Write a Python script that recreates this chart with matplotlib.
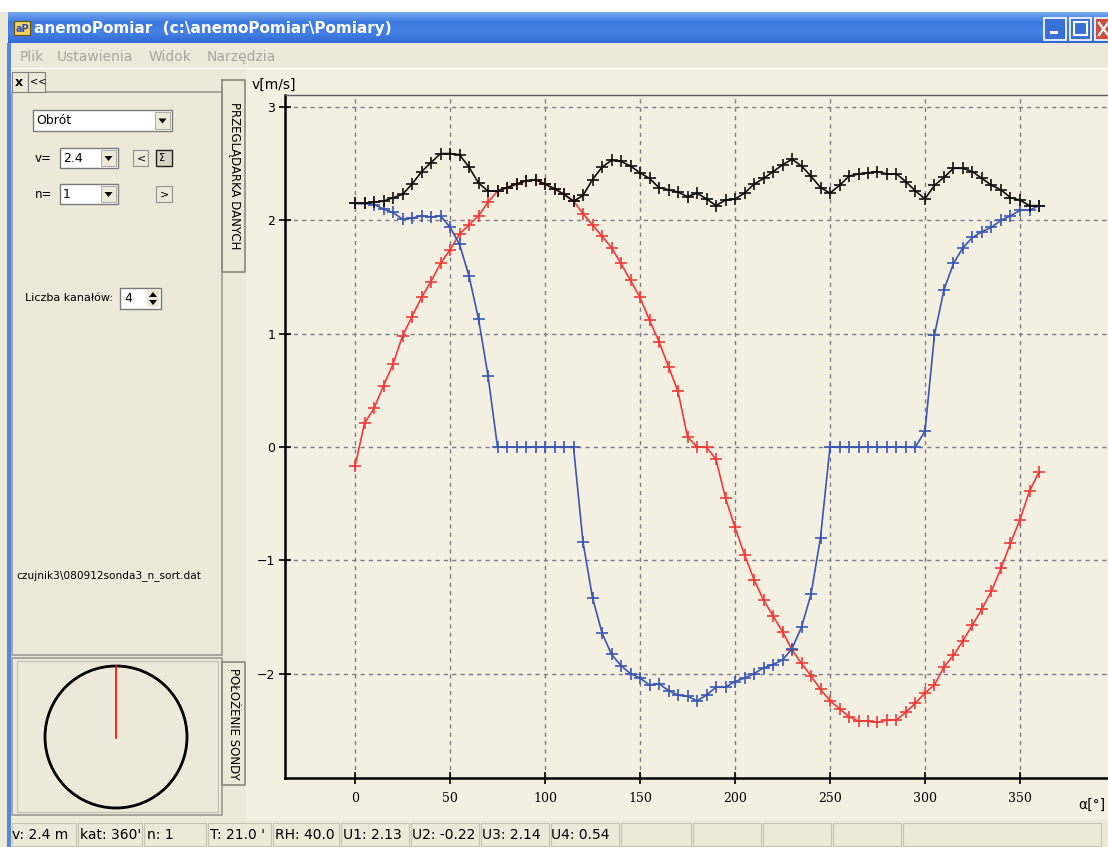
import numpy as np
import matplotlib
matplotlib.use("Agg")
import matplotlib.pyplot as plt
from matplotlib.patches import Rectangle, Circle, Polygon
from matplotlib.colors import LinearSegmentedColormap

# ---------------- data ----------------
angles = list(range(0, 361, 5))
x_ticks = [0, 50, 100, 150, 200, 250, 300, 350]
y_ticks = [-2, -1, 0, 1, 2, 3]

u_black = [2.15, 2.15, 2.16, 2.17, 2.20, 2.23, 2.32, 2.43, 2.51, 2.59,
           2.59, 2.58, 2.47, 2.33, 2.26, 2.26, 2.29, 2.32, 2.35, 2.36,
           2.32, 2.28, 2.23, 2.17, 2.22, 2.36, 2.47, 2.53, 2.52, 2.48,
           2.42, 2.37, 2.29, 2.27, 2.25, 2.21, 2.24, 2.19, 2.13, 2.18,
           2.19, 2.24, 2.32, 2.37, 2.43, 2.49, 2.54, 2.48, 2.39, 2.29,
           2.24, 2.31, 2.39, 2.41, 2.42, 2.43, 2.41, 2.41, 2.34, 2.26,
           2.19, 2.31, 2.38, 2.46, 2.46, 2.43, 2.37, 2.31, 2.27, 2.20,
           2.18, 2.13, 2.13]

u_blue = [2.15, 2.15, 2.14, 2.10, 2.07, 2.01, 2.02, 2.04, 2.03, 2.04,
          1.94, 1.79, 1.51, 1.13, 0.63, 0.0, 0.0, 0.0, 0.0, 0.0,
          0.0, 0.0, 0.0, 0.0, -0.84, -1.33, -1.64, -1.83, -1.93, -2.00,
          -2.04, -2.10, -2.09, -2.15, -2.19, -2.20, -2.24, -2.19, -2.12, -2.12,
          -2.07, -2.04, -2.00, -1.95, -1.92, -1.88, -1.78, -1.59, -1.30, -0.80,
          0.0, 0.0, 0.0, 0.0, 0.0, 0.0, 0.0, 0.0, 0.0, 0.0,
          0.14, 0.99, 1.39, 1.62, 1.76, 1.85, 1.90, 1.94, 2.00, 2.04,
          2.09, 2.09, 2.13]

u_red = [-0.17, 0.21, 0.34, 0.54, 0.73, 0.98, 1.15, 1.32, 1.46, 1.62,
         1.74, 1.88, 1.96, 2.04, 2.16, 2.26, 2.29, 2.32, 2.35, 2.36,
         2.32, 2.28, 2.23, 2.17, 2.06, 1.96, 1.86, 1.76, 1.62, 1.47,
         1.32, 1.12, 0.93, 0.71, 0.49, 0.09, 0.0, 0.0, -0.11, -0.45,
         -0.71, -0.95, -1.17, -1.35, -1.49, -1.63, -1.79, -1.91, -2.02, -2.14,
         -2.24, -2.31, -2.38, -2.42, -2.42, -2.43, -2.41, -2.41, -2.34, -2.26,
         -2.17, -2.10, -1.94, -1.84, -1.71, -1.57, -1.43, -1.27, -1.07, -0.85,
         -0.64, -0.39, -0.22]

status_texts = ["v: 2.4 m", "kat: 360'", "n: 1", "T: 21.0 '", "RH: 40.0",
                "U1: 2.13", "U2: -0.22", "U3: 2.14", "U4: 0.54"]
menu_items = ["Plik", "Ustawienia", "Widok", "Narzędzia"]

# ---------------- figure ----------------
W, H = 1108, 847
BG = "#ECE9D8"
CHART_BG = "#F3EFE1"
fig = plt.figure(figsize=(W / 100, H / 100), dpi=100)
fig.patch.set_facecolor(BG)

ui = fig.add_axes([0, 0, 1, 1], zorder=0)
ui.set_xlim(0, W)
ui.set_ylim(H, 0)
ui.axis("off")


def rect(x0, y0, x1, y1, fc="none", ec="none", lw=1.0, z=1):
    ui.add_patch(Rectangle((x0, y0), x1 - x0, y1 - y0, facecolor=fc,
                           edgecolor=ec, linewidth=lw, zorder=z))


def txt(x, y, s, size=9, color="black", **kw):
    ui.text(x, y, s, fontsize=size, color=color, va="center", ha="left",
            zorder=5, **kw)


# top white strip
rect(0, 0, W, 12, fc="white")
# title bar gradient
cmap = LinearSegmentedColormap.from_list("xp", ["#7aaaf0", "#3b78e0", "#4682e4", "#3069d4"])
grad = np.linspace(0, 1, 64).reshape(-1, 1)
ui.imshow(grad, cmap=cmap, aspect="auto", extent=[8, W, 43, 12], zorder=1)
ui.set_xlim(0, W)
ui.set_ylim(H, 0)
# icon + title
rect(14, 21, 30, 35, fc="#f0d060", ec="#6a5010", lw=0.8, z=3)
ui.text(22, 28.5, "aP", fontsize=7, color="#3050b0", ha="center", va="center",
        fontweight="bold", zorder=4)
txt(34, 28, "anemoPomiar  (c:\\anemoPomiar\\Pomiary)", size=11, color="white",
    fontweight="bold")
# window buttons
rect(1044, 18, 1066, 40, fc="#3b6fd8", ec="white", lw=1.2, z=3)
rect(1050, 31, 1058, 34, fc="white", z=4)
rect(1070, 18, 1091, 40, fc="#3b6fd8", ec="white", lw=1.2, z=3)
rect(1074, 22, 1087, 35, fc="none", ec="white", lw=1.5, z=4)
rect(1095, 18, 1112, 40, fc="#c9503f", ec="white", lw=1.2, z=3)
ui.plot([1099, 1108], [23, 35], color="white", lw=1.6, zorder=4)
ui.plot([1099, 1108], [35, 23], color="white", lw=1.6, zorder=4)
# left blue window border
rect(7, 43, 11, H, fc="#5a84dc")
# menu bar
for s, x in zip(menu_items, [20, 57, 149, 207]):
    txt(x, 57, s, size=10, color="#a8a8a0")
rect(11, 68, W, 69, fc="#ffffff")

# chart region background
rect(246, 69, W, 820, fc=CHART_BG)

# left panel (data browser)
rect(12, 92, 222, 655, fc=BG, ec="#9a9a90", lw=1.2)
rect(12, 72, 28, 92, fc=BG, ec="#808080", lw=0.8)
txt(15, 82, "x", size=9, fontweight="bold")
rect(28, 72, 45, 92, fc=BG, ec="#808080", lw=0.8)
txt(30, 81, "<<", size=7)
# tab
ui.plot([222, 222, 245, 245, 222], [80, 272, 272, 80, 80], color="#8a8a80", lw=1.2, zorder=2)
rect(223, 80, 245, 272, fc=BG, z=1)
ui.text(235, 176, "PRZEGLĄDARKA DANYCH", rotation=-90, fontsize=8.5,
        ha="center", va="center", zorder=5)


def combo(x0, y0, x1, y1, s):
    rect(x0, y0, x1, y1, fc="white", ec="#7a7a7a", lw=1.0, z=3)
    rect(x1 - 17, y0 + 2, x1 - 2, y1 - 2, fc=BG, ec="#a0a0a0", lw=0.6, z=4)
    cx, cy = x1 - 9.5, (y0 + y1) / 2
    ui.add_patch(Polygon([[cx - 4, cy - 2], [cx + 4, cy - 2], [cx, cy + 3]],
                         closed=True, fc="black", ec="none", zorder=5))
    txt(x0 + 3, (y0 + y1) / 2, s, size=9)


combo(33, 110, 172, 131, "Obrót")
txt(35, 158, "v=", size=8.5)
combo(60, 148, 118, 168, "2.4")
rect(133, 150, 148, 166, fc=BG, ec="#909090", lw=0.8, z=3)
txt(137, 158, "<", size=8)
rect(156, 150, 172, 166, fc="#d8d4c4", ec="#202020", lw=1.0, z=3)
txt(159, 158, "Σ", size=7)
txt(35, 194, "n=", size=8.5)
combo(60, 184, 118, 204, "1")
rect(156, 186, 172, 202, fc=BG, ec="#909090", lw=0.8, z=3)
txt(160, 194, ">", size=8)
txt(25, 298, "Liczba kanałów:", size=8)
rect(120, 288, 161, 309, fc="white", ec="#7a7a7a", lw=1.0, z=3)
txt(124, 298.5, "4", size=9)
rect(147, 290, 159, 307, fc=BG, z=4)
ui.add_patch(Polygon([[149, 297], [157, 297], [153, 292]], fc="black", zorder=5))
ui.add_patch(Polygon([[149, 300], [157, 300], [153, 305]], fc="black", zorder=5))
txt(16, 576, "czujnik3\\080912sonda3_n_sort.dat", size=7.6)

# lower panel (probe position)
rect(12, 658, 222, 815, fc=BG, ec="#9a9a90", lw=1.2)
rect(17, 661, 218, 812, fc="none", ec="#c0c0b8", lw=0.8)
ui.add_patch(Circle((116, 737), 71, fc="none", ec="black", lw=2.0, zorder=3))
ui.plot([116, 116], [666, 738], color="red", lw=1.2, zorder=4)
ui.plot([222, 222, 245, 245, 222], [662, 785, 785, 662, 662], color="#8a8a80", lw=1.2, zorder=2)
rect(223, 662, 245, 785, fc=BG, z=1)
ui.text(234, 724, "POŁOŻENIE SONDY", rotation=-90, fontsize=8.5,
        ha="center", va="center", zorder=5)

# status bar
rect(11, 820, W, H, fc=BG)
seps = [11, 77, 143, 207, 272, 340, 410, 480, 550, 620, 692, 762, 832, 902, 1102]
for a, b in zip(seps[:-1], seps[1:]):
    rect(a + 1, 823, b - 1, H - 1, fc="none", ec="#c8c4b4", lw=0.8, z=2)
for s, x in zip(status_texts, [12, 80, 147, 210, 275, 343, 412, 482, 551]):
    txt(x, 835, s, size=10)

# ---------------- chart ----------------
px_per_deg = 1.9
x0_px = 355.0
px_per_unit = 113.3
y0_px = 447.0
ax_l, ax_r, ax_t, ax_b = 285, 1125, 95, 778
ax = fig.add_axes([ax_l / W, 1 - ax_b / H, (ax_r - ax_l) / W, (ax_b - ax_t) / H], zorder=2)
ax.set_facecolor(CHART_BG)
ax.set_xlim((ax_l - x0_px) / px_per_deg, (ax_r - x0_px) / px_per_deg)
ax.set_ylim(-(ax_b - y0_px) / px_per_unit, (y0_px - ax_t) / px_per_unit)

ax.spines["right"].set_visible(False)
ax.spines["left"].set_linewidth(1.8)
ax.spines["bottom"].set_linewidth(1.8)
ax.spines["top"].set_linewidth(1.0)
ax.spines["top"].set_color("#606060")

ax.set_xticks(x_ticks)
ax.set_yticks(y_ticks)
ax.set_xticklabels([str(v) for v in x_ticks], fontsize=9, family="DejaVu Serif")
ax.set_yticklabels([str(v).replace("-", "\u2212") for v in y_ticks], fontsize=9)
ax.tick_params(axis="both", direction="inout", length=8, width=1.2, colors="black")
ax.tick_params(axis="x", pad=6)
ax.tick_params(axis="y", pad=3)

ax.grid(True, color="#7d7d8a", linestyle=(0, (3, 3)), linewidth=1.0)
ax.set_axisbelow(True)

mk = dict(marker="+", markersize=8, markeredgewidth=1.2, linewidth=1.2)
ax.plot(angles, u_red, color="#f03a3a", **mk, zorder=3)
ax.plot(angles, u_blue, color="#3a56b2", **mk, zorder=4)
ax.plot(angles, u_black, color="#101010", **mk, zorder=5)

fig.text(252 / W, 1 - 85 / H, "v[m/s]", fontsize=10, ha="left", va="center")
fig.text(1105 / W, 1 - 805 / H, "α[°]", fontsize=10, ha="right", va="center")

fig.savefig("out.png", dpi=100, facecolor=fig.get_facecolor())
